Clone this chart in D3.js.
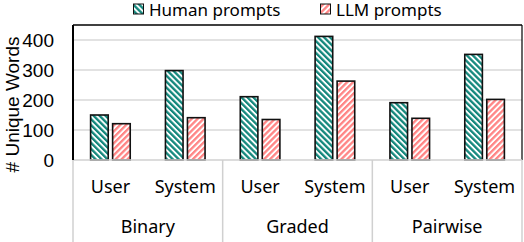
<!DOCTYPE html>
<html lang="en">
<head>
<meta charset="utf-8">
<title>Unique words per prompt type</title>
<script src="https://cdn.jsdelivr.net/npm/d3@7"></script>
<style>
  body { margin: 0; background: #fff; }
  svg { display: block; }
</style>
</head>
<body>
<script>
// chart data
var groups = ["Binary", "Graded", "Pairwise"];
var subcats = ["User", "System"];
var series = ["Human prompts", "LLM prompts"];
var humanValues = [150, 298, 211, 412, 191, 352];
var llmValues = [121, 141, 135, 263, 139, 202];
var yTicks = [0, 100, 200, 300, 400];

var W = 524, H = 242;
var plot = {left: 73, right: 522, top: 25, bottom: 160};
var teal = "#13877c", pink = "#ff8585";
var labelFont = "'Noto Sans', sans-serif";
var axisFont = "'Liberation Sans', Arial, sans-serif";

var svg = d3.select("body").append("svg")
  .attr("width", W)
  .attr("height", H);

// hatch patterns for the two series
var defs = svg.append("defs");
function make_hatch(id, color, angle){
  var p = defs.append("pattern")
    .attr("id", id)
    .attr("patternUnits", "userSpaceOnUse")
    .attr("width", 4.2)
    .attr("height", 4.2)
    .attr("patternTransform", "rotate(" + angle + ")");
  p.append("rect").attr("width", 4.2).attr("height", 4.2).attr("fill", "#fff");
  p.append("rect").attr("width", 2.3).attr("height", 4.2).attr("fill", color);
}
make_hatch("hatchHuman", teal, -45);
make_hatch("hatchLLM", pink, 45);
var fills = ["url(#hatchHuman)", "url(#hatchLLM)"];

// scales
var x0 = d3.scaleBand().domain(groups).range([plot.left, plot.right]);
var x1 = d3.scaleBand().domain(subcats).range([0, x0.bandwidth()]);
var x2 = d3.scaleBand().domain(series).range([0, x1.bandwidth()])
  .paddingInner(0.2).paddingOuter(0.8);
var y = d3.scaleLinear().domain([0, 450]).range([plot.bottom, plot.top]);

// gridlines
svg.append("g")
  .selectAll("line")
  .data(yTicks.filter(function(d){ return d > 0; }))
  .join("line")
  .attr("x1", plot.left).attr("x2", plot.right)
  .attr("y1", function(d){ return y(d); })
  .attr("y2", function(d){ return y(d); })
  .attr("stroke", "#d9d9d9")
  .attr("stroke-width", 1.5);

// flatten into rows
var rows = [];
groups.forEach(function(g, gi){
  subcats.forEach(function(s, si){
    var k = gi * subcats.length + si;
    rows.push({group: g, sub: s, si: 0, series: series[0], value: humanValues[k]});
    rows.push({group: g, sub: s, si: 1, series: series[1], value: llmValues[k]});
  });
});

// bars
svg.append("g")
  .selectAll("rect")
  .data(rows)
  .join("rect")
  .attr("x", function(d){ return x0(d.group) + x1(d.sub) + x2(d.series); })
  .attr("width", x2.bandwidth())
  .attr("y", function(d){ return y(d.value); })
  .attr("height", function(d){ return y(0) - y(d.value); })
  .attr("fill", function(d){ return fills[d.si]; })
  .attr("stroke", "#111")
  .attr("stroke-width", 1.6);

// plot frame: black top/left/right, grey bottom
svg.append("line")
  .attr("x1", plot.left).attr("x2", plot.right)
  .attr("y1", plot.top).attr("y2", plot.top)
  .attr("stroke", "#000").attr("stroke-width", 1.5);
svg.append("line")
  .attr("x1", plot.right).attr("x2", plot.right)
  .attr("y1", plot.top).attr("y2", plot.bottom)
  .attr("stroke", "#000").attr("stroke-width", 1.2);

// category table below the plot
var table = svg.append("g").attr("stroke", "#d0d0d0").attr("stroke-width", 1.5);
table.append("line")
  .attr("x1", plot.left).attr("x2", plot.right)
  .attr("y1", plot.bottom).attr("y2", plot.bottom);
table.selectAll(".sep")
  .data(groups.map(function(g){ return x0(g); }).concat([plot.right]))
  .join("line")
  .attr("class", "sep")
  .attr("x1", function(d){ return d; }).attr("x2", function(d){ return d; })
  .attr("y1", plot.bottom).attr("y2", H);

svg.append("line")
  .attr("x1", plot.left).attr("x2", plot.left)
  .attr("y1", plot.top).attr("y2", plot.bottom)
  .attr("stroke", "#000").attr("stroke-width", 2);

// sub-category labels
svg.append("g")
  .selectAll("text")
  .data(rows.filter(function(d){ return d.si === 0; }))
  .join("text")
  .attr("x", function(d){ return x0(d.group) + x1(d.sub) + x1.bandwidth() / 2; })
  .attr("y", 193)
  .attr("text-anchor", "middle")
  .style("font-family", labelFont)
  .style("font-size", "18px")
  .text(function(d){ return d.sub; });

// group labels
svg.append("g")
  .selectAll("text")
  .data(groups)
  .join("text")
  .attr("x", function(d){ return x0(d) + x0.bandwidth() / 2; })
  .attr("y", 233)
  .attr("text-anchor", "middle")
  .style("font-family", labelFont)
  .style("font-size", "18px")
  .text(function(d){ return d; });

// y tick labels
svg.append("g")
  .selectAll("text")
  .data(yTicks)
  .join("text")
  .attr("x", 54)
  .attr("y", function(d){ return y(d); })
  .attr("dy", "0.36em")
  .attr("text-anchor", "end")
  .style("font-family", axisFont)
  .style("font-size", "19px")
  .text(function(d){ return d; });

// y axis title
svg.append("text")
  .attr("transform", "translate(19," + ((plot.top + plot.bottom) / 2 + 12) + ") rotate(-90)")
  .attr("text-anchor", "middle")
  .style("font-family", axisFont)
  .style("font-size", "19px")
  .text("# Unique Words");

// legend
var legendX = [133, 320];
var legend = svg.append("g")
  .selectAll("g")
  .data(series)
  .join("g")
  .attr("transform", function(d, i){ return "translate(" + legendX[i] + ",0)"; });
legend.append("rect")
  .attr("x", 0.5).attr("y", 4)
  .attr("width", 10).attr("height", 10)
  .attr("fill", function(d, i){ return fills[i]; })
  .attr("stroke", "#111")
  .attr("stroke-width", 1);
legend.append("text")
  .attr("x", 16)
  .attr("y", 16)
  .style("font-family", labelFont)
  .style("font-size", "17px")
  .text(function(d){ return d; });
</script>
</body>
</html>
